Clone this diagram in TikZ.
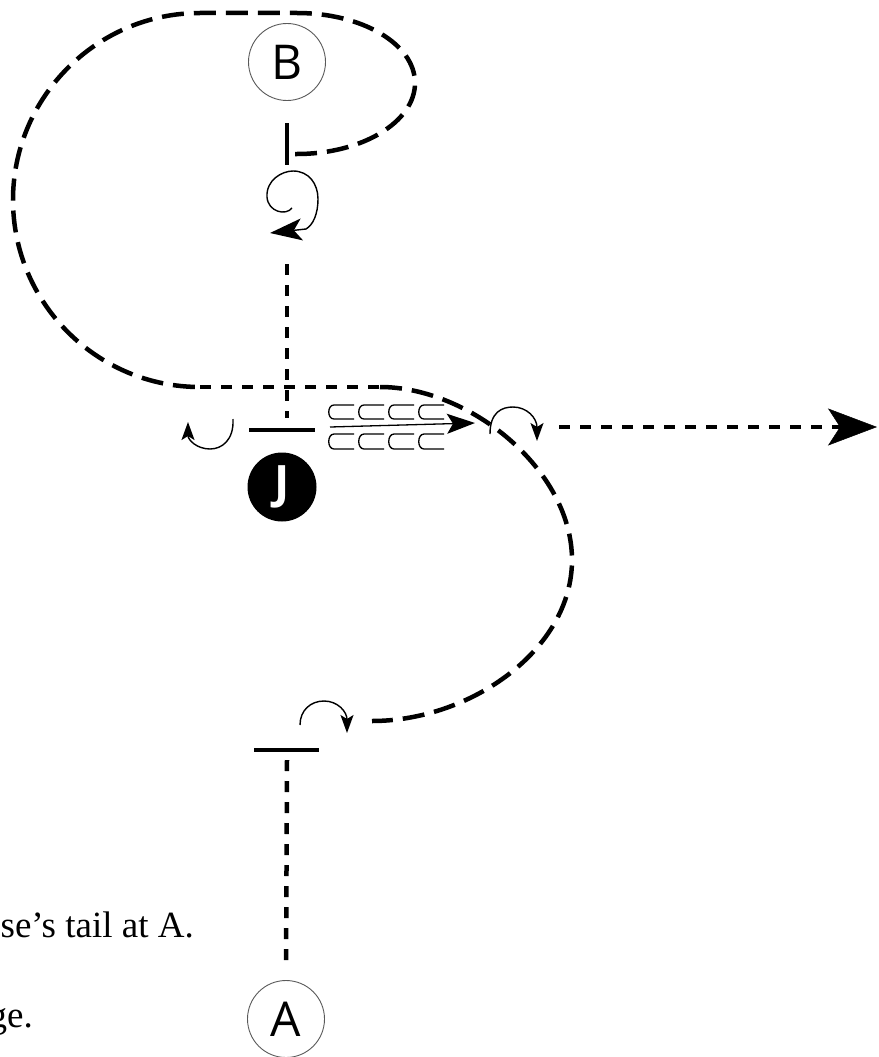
\documentclass[tikz,border=0pt]{standalone}
\usepackage{fontspec}
\setmainfont{Liberation Serif}
\newfontfamily\lettersf{Open Sans}
\usetikzlibrary{arrows.meta}
\begin{document}
\begin{tikzpicture}[x=1pt,y=-1pt,
  thickdash/.style={line width=4.5pt, dash pattern=on 22pt off 10pt},
  shortdash/.style={line width=4.5pt, dash pattern=on 11pt off 10pt},
  barline/.style={line width=4.5pt},
  thinarc/.style={line width=1.4pt, -{Stealth[length=18pt,width=13pt,inset=4pt]}},
  circ/.style={circle, draw=black!65, line width=0.9pt, minimum size=77pt, inner sep=0pt, font=\lettersf\fontsize{48}{48}\selectfont},
  jcirc/.style={circle, fill=black, minimum size=69pt, inner sep=0pt, text=white, font=\lettersf\bfseries\fontsize{46}{46}\selectfont},
  cupline/.style={line width=1.3pt},
  captext/.style={inner sep=0pt, anchor=base east}
]
\useasboundingbox (0,0) rectangle (878,1057);
\clip (0,0) rectangle (878,1057);

% nodes
\node[circ] (B) at (287,62) {B};
\node[circ] (A) at (286,1019) {A};
\node[jcirc] (J) at (282,487) {J};
\node[captext] (t1) at (194,937) {\fontsize{37}{44}\selectfont se’s tail at A.};
\node[captext] (t2) at (33,1027) {\fontsize{37}{44}\selectfont ge.};

% coordinates
\coordinate (Bstemtop) at (287,123);
\coordinate (Bstembot) at (287,165);
\coordinate (loopstart) at (295,154);
\coordinate (spiralend) at (287,264);
\coordinate (Jbarmid) at (287,418);
\coordinate (JbarL) at (249,430);
\coordinate (JbarR) at (315,430);
\coordinate (AbarL) at (254,750);
\coordinate (AbarR) at (319,750);
\coordinate (Astem) at (287,760);
\coordinate (outstart) at (559,427);
\coordinate (outend) at (877,427);

% bars
\draw[barline] (Bstemtop) -- (Bstembot);
\draw[barline] (JbarL) -- (JbarR);
\draw[barline] (AbarL) -- (AbarR);

% big dashed path
\draw[thickdash] (loopstart) -- (297,154) .. controls (362,154) and (415,122) .. (415,83)
  .. controls (415,44) and (362,13) .. (297,13) -- (200,13)
  .. controls (97,13) and (13,97) .. (13,200)
  .. controls (13,303) and (97,387) .. (200,387);
\draw[shortdash] (200,387) -- (380,387);
\draw[thickdash] (380,387) .. controls (470,387) and (572,470) .. (572,560)
  .. controls (572,650) and (470,721) .. (372,721);

% vertical dashed connectors
\draw[shortdash] (spiralend) -- (Jbarmid);
\draw[shortdash, shorten >=18pt] (Astem) -- (A.north);

% right output arrow
\draw[shortdash, -{Stealth[length=49pt,width=37pt,inset=12pt,line width=0.5pt]}] (outstart) -- (outend);

% spiral
\draw[line width=1.4pt, -{Stealth[length=32pt,width=22pt,inset=8pt]}]
  (292,208) .. controls (286,216) and (268,212) .. (267,197)
  .. controls (266,180) and (282,171) .. (293,171)
  .. controls (309,171) and (318,184) .. (318,199)
  .. controls (318,214) and (313,225) .. (306,229) -- (270,233);

% small arc arrows
\draw[thinarc] (233,419) .. controls (234,440) and (222,449) .. (210,449)
  .. controls (197,449) and (188,440) .. (188,422);
\draw[thinarc] (490,434) .. controls (490,412) and (502,407) .. (513,407)
  .. controls (527,407) and (537,418) .. (537,441);
\draw[thinarc] (300,725) .. controls (300,710) and (311,701) .. (324,701)
  .. controls (338,701) and (347,712) .. (347,733);

% double arrow with cups
\draw[line width=1.3pt, -{Stealth[length=28pt,width=20pt,inset=6pt]}] (330,427) -- (475,423);
\foreach \x in {327,357,387,417}{
  \draw[cupline] (\x+27,405) -- (\x+7,405) .. controls (\x,405) and (\x,419) .. (\x+7,419) -- (\x+27,419);
  \draw[cupline] (\x+27,434) -- (\x+7,434) .. controls (\x,434) and (\x,449) .. (\x+7,449) -- (\x+27,449);
}
\end{tikzpicture}
\end{document}
